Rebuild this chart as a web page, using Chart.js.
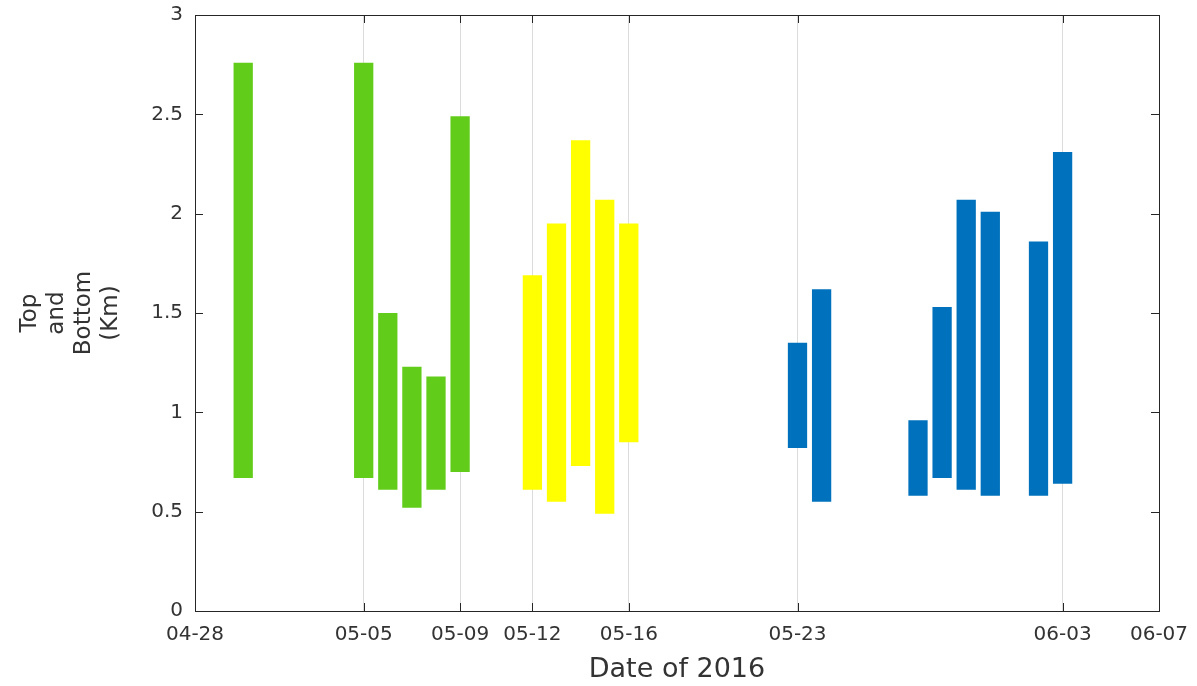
<!DOCTYPE html>
<html>
<head>
<meta charset="utf-8">
<script src="https://cdn.jsdelivr.net/npm/chart.js@4"></script>
<style>
  html, body { margin: 0; padding: 0; background: #fff; }
  #wrap { width: 1197px; height: 686px; }
</style>
</head>
<body>
<div id="wrap"><canvas id="cloudChart" width="1197" height="686"></canvas></div>
<script>
// cloud layer top / bottom heights (km) per day, 2016
const greenDates = ['04-30', '05-05', '05-06', '05-07', '05-08', '05-09'];
const greenTop = [2.76, 2.76, 1.50, 1.23, 1.18, 2.49];
const greenBottom = [0.67, 0.67, 0.61, 0.52, 0.61, 0.70];

const yellowDates = ['05-12', '05-13', '05-14', '05-15', '05-16'];
const yellowTop = [1.69, 1.95, 2.37, 2.07, 1.95];
const yellowBottom = [0.61, 0.55, 0.73, 0.49, 0.85];

const blueDates = ['05-23', '05-24', '05-28', '05-29', '05-30', '05-31', '06-02', '06-03'];
const blueTop = [1.35, 1.62, 0.96, 1.53, 2.07, 2.01, 1.86, 2.31];
const blueBottom = [0.82, 0.55, 0.58, 0.67, 0.61, 0.58, 0.58, 0.64];

const tickLabels = ['04-28', '05-05', '05-09', '05-12', '05-16', '05-23', '06-03', '06-07'];
const yTicks = [0, 0.5, 1, 1.5, 2, 2.5, 3];

// days since 04-28
function dayOf(md) {
    const [m, d] = md.split('-').map(Number);
    return (Date.UTC(2016, m - 1, d) - Date.UTC(2016, 3, 28)) / 86400000;
}

function toPoints(dates, bottom, top) {
    return dates.map((d, i) => ({ x: dayOf(d), y: [bottom[i], top[i]] }));
}

const tickDays = tickLabels.map(dayOf);
const axisColor = '#262626';
const textColor = '#333333';
const fontFamily = '"DejaVu Sans", Arial, sans-serif';

// MATLAB-like box with inward ticks on all four sides
const boxPlugin = {
    id: 'boxPlugin',
    afterDatasetsDraw(chart) {
        const { ctx, chartArea: a, scales } = chart;
        const len = 8;
        ctx.save();
        ctx.strokeStyle = axisColor;
        ctx.lineWidth = 1;
        ctx.beginPath();
        tickDays.forEach(v => {
            const px = Math.round(scales.x.getPixelForValue(v)) + 0.5;
            ctx.moveTo(px, a.bottom); ctx.lineTo(px, a.bottom - len);
            ctx.moveTo(px, a.top); ctx.lineTo(px, a.top + len);
        });
        yTicks.forEach(v => {
            const py = Math.round(scales.y.getPixelForValue(v)) + 0.5;
            ctx.moveTo(a.left, py); ctx.lineTo(a.left + len, py);
            ctx.moveTo(a.right, py); ctx.lineTo(a.right - len, py);
        });
        ctx.stroke();
        ctx.strokeRect(Math.round(a.left) + 0.5, Math.round(a.top) + 0.5,
            Math.round(a.right - a.left), Math.round(a.bottom - a.top));
        ctx.restore();
    }
};

const ctx = document.getElementById('cloudChart').getContext('2d');
new Chart(ctx, {
    type: 'bar',
    data: {
        datasets: [
            { label: 'green', data: toPoints(greenDates, greenBottom, greenTop), backgroundColor: '#62cc1a' },
            { label: 'yellow', data: toPoints(yellowDates, yellowBottom, yellowTop), backgroundColor: '#ffff00' },
            { label: 'blue', data: toPoints(blueDates, blueBottom, blueTop), backgroundColor: '#0072bd' }
        ]
    },
    options: {
        responsive: false,
        animation: false,
        events: [],
        grouped: false,
        barPercentage: 0.8,
        categoryPercentage: 1,
        borderWidth: 0,
        layout: { padding: { top: 15, right: 38, left: 16, bottom: 0 } },
        plugins: {
            legend: { display: false },
            tooltip: { enabled: false }
        },
        scales: {
            x: {
                type: 'linear',
                min: 0,
                max: 40,
                offset: false,
                afterBuildTicks: scale => {
                    scale.ticks = tickDays.map(v => ({ value: v }));
                },
                afterFit: scale => {
                    scale.height = 75;
                    scale.paddingLeft = 0;
                    scale.paddingRight = 0;
                },
                grid: {
                    offset: false,
                    color: ctx => (ctx.tick && (ctx.tick.value === 0 || ctx.tick.value === 40)) ? 'rgba(0,0,0,0)' : '#dcdcdc',
                    lineWidth: 1,
                    drawTicks: false
                },
                border: { display: false },
                ticks: {
                    autoSkip: false,
                    maxRotation: 0,
                    padding: 12,
                    color: textColor,
                    font: { family: fontFamily, size: 20 },
                    callback: (value, i) => tickLabels[i]
                },
                title: {
                    display: true,
                    text: 'Date of 2016',
                    color: textColor,
                    font: { family: fontFamily, size: 27 },
                    padding: { top: 0, bottom: 0 }
                }
            },
            y: {
                min: 0,
                max: 3,
                afterBuildTicks: scale => {
                    scale.ticks = yTicks.map(v => ({ value: v }));
                },
                afterFit: scale => {
                    scale.width = 179;
                    scale.paddingTop = 0;
                    scale.paddingBottom = 0;
                },
                grid: { display: false, drawTicks: false },
                border: { display: false },
                ticks: {
                    padding: 12,
                    color: textColor,
                    font: { family: fontFamily, size: 20 },
                    callback: value => String(value)
                },
                title: {
                    display: true,
                    text: ['Top', 'and', 'Bottom', '(Km)'],
                    color: textColor,
                    font: { family: fontFamily, size: 23, lineHeight: 1.18 },
                    padding: { top: 0, bottom: 20 }
                }
            }
        }
    },
    plugins: [boxPlugin]
});
</script>
</body>
</html>
